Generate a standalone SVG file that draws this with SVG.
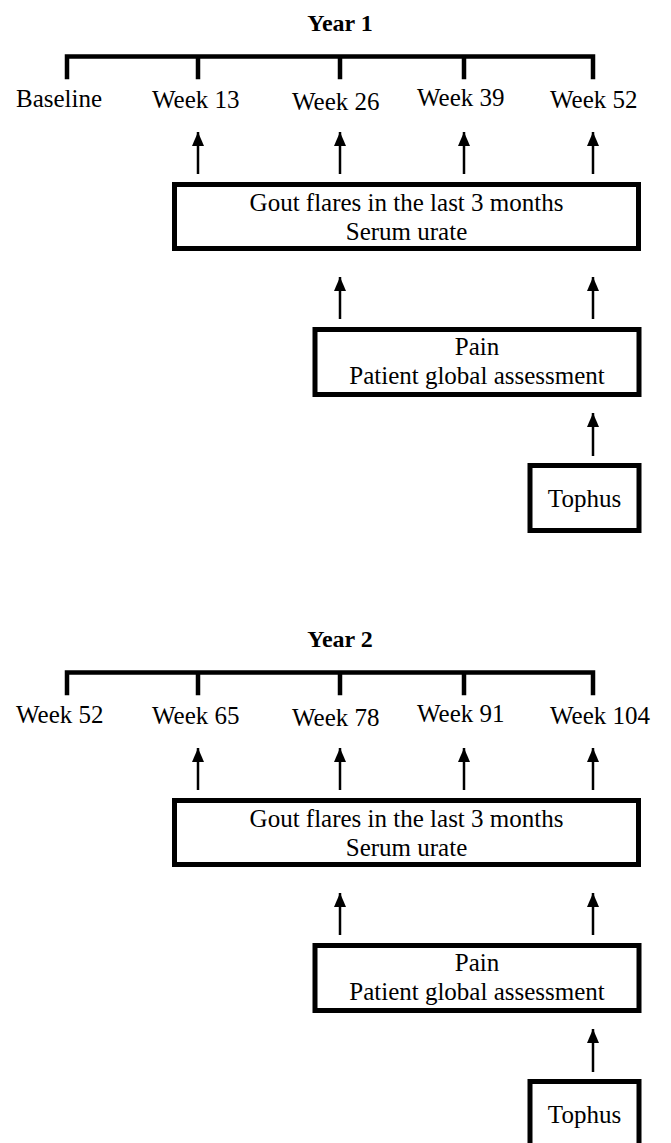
<svg xmlns="http://www.w3.org/2000/svg" width="671" height="1143" viewBox="0 0 671 1143">
<style>
  .box { fill: #fff; stroke: #000; stroke-width: 5; }
  .br { fill: none; stroke: #000; stroke-width: 4.5; stroke-linecap: square; }
  .ar { stroke: #000; stroke-width: 2.5; fill: none; marker-end: url(#ah); }
</style>
<defs>
  <marker id="ah" viewBox="0 0 14 12" markerWidth="14" markerHeight="12" refX="14" refY="6" orient="auto" markerUnits="userSpaceOnUse">
    <path d="M0,0 L14,6 L0,12 z" fill="#000"/>
  </marker>
</defs>
<rect width="671" height="1143" fill="#fff"/>

<!-- Year 1 -->
<g id="year1" font-family="Liberation Serif" font-size="25" fill="#000">
  <text x="340" y="31" font-size="24" font-weight="bold" text-anchor="middle">Year 1</text>
  <g id="timeline1">
    <path class="br" d="M67,77 V56.5 H593 V77 M198,56.5 V77 M340,56.5 V77 M464,56.5 V77"/>
  </g>
  <g id="labels1">
    <text x="16" y="107">Baseline</text>
    <text x="152" y="108">Week 13</text>
    <text x="292" y="110">Week 26</text>
    <text x="417" y="106">Week 39</text>
    <text x="550" y="108">Week 52</text>
  </g>
  <g id="box1a" text-anchor="middle">
    <rect class="box" x="174.5" y="184.5" width="464" height="64"/>
    <text x="406.5" y="210.5">Gout flares in the last 3 months</text>
    <text x="406.5" y="240">Serum urate</text>
  </g>
  <g id="box1b" text-anchor="middle">
    <rect class="box" x="315" y="329.5" width="324" height="65"/>
    <text x="477" y="355">Pain</text>
    <text x="477" y="384">Patient global assessment</text>
  </g>
  <g id="box1c" text-anchor="middle">
    <rect class="box" x="530" y="465.5" width="109" height="65"/>
    <text x="584.5" y="507">Tophus</text>
  </g>
</g>

<!-- Year 2 -->
<g id="year2" font-family="Liberation Serif" font-size="25" fill="#000">
  <text x="340" y="647" font-size="24" font-weight="bold" text-anchor="middle">Year 2</text>
  <g id="timeline2">
    <path class="br" d="M67,693 V672.5 H593 V693 M198,672.5 V693 M340,672.5 V693 M464,672.5 V693"/>
  </g>
  <g id="labels2">
    <text x="16" y="723">Week 52</text>
    <text x="152" y="724">Week 65</text>
    <text x="292" y="726">Week 78</text>
    <text x="417" y="722">Week 91</text>
    <text x="550" y="724">Week 104</text>
  </g>
  <g id="box2a" text-anchor="middle">
    <rect class="box" x="174.5" y="800.5" width="464" height="64"/>
    <text x="406.5" y="826.5">Gout flares in the last 3 months</text>
    <text x="406.5" y="856">Serum urate</text>
  </g>
  <g id="box2b" text-anchor="middle">
    <rect class="box" x="315" y="945.5" width="324" height="65"/>
    <text x="477" y="971">Pain</text>
    <text x="477" y="1000">Patient global assessment</text>
  </g>
  <g id="box2c" text-anchor="middle">
    <rect class="box" x="530" y="1081.5" width="109" height="65"/>
    <text x="584.5" y="1123">Tophus</text>
  </g>
</g>

<g id="connectors">
  <line class="ar" x1="198" y1="174" x2="198" y2="132"/>
  <line class="ar" x1="340" y1="174" x2="340" y2="132"/>
  <line class="ar" x1="464" y1="174" x2="464" y2="132"/>
  <line class="ar" x1="593" y1="174" x2="593" y2="132"/>
  <line class="ar" x1="340" y1="319" x2="340" y2="277"/>
  <line class="ar" x1="593" y1="319" x2="593" y2="277"/>
  <line class="ar" x1="593" y1="456" x2="593" y2="413"/>

  <line class="ar" x1="198" y1="790" x2="198" y2="748"/>
  <line class="ar" x1="340" y1="790" x2="340" y2="748"/>
  <line class="ar" x1="464" y1="790" x2="464" y2="748"/>
  <line class="ar" x1="593" y1="790" x2="593" y2="748"/>
  <line class="ar" x1="340" y1="935" x2="340" y2="893"/>
  <line class="ar" x1="593" y1="935" x2="593" y2="893"/>
  <line class="ar" x1="593" y1="1072" x2="593" y2="1029"/>
</g>
</svg>
